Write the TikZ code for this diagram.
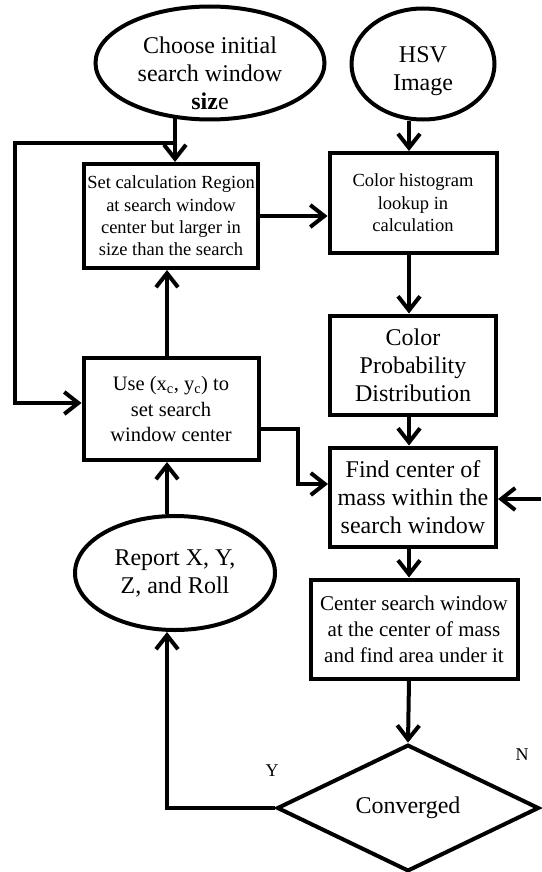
\documentclass[tikz,border=0pt]{standalone}
\usepackage{fontspec}
\setmainfont{Liberation Serif}
\usetikzlibrary{arrows.meta,shapes.geometric}

\tikzset{
  every node/.style={align=center, line width=4pt, inner sep=0pt},
  blk/.style={draw, rectangle},
  oval/.style={draw, ellipse},
  arr/.style={-{Straight Barb[length=14pt,width=22pt]}, line width=4pt},
  bigtxt/.style={font=\fontsize{24}{28}\selectfont},
  midtxt/.style={font=\fontsize{20.5}{25.5}\selectfont},
  smalltxt/.style={font=\fontsize{18.5}{22.4}\selectfont},
}

\begin{document}
\begin{tikzpicture}[x=1pt, y=-1pt]
\useasboundingbox (0,0) rectangle (541,872);
% inputs (text sits a little low in these two)
\node[oval, minimum width=229, minimum height=113,
  label={[bigtxt, yshift=-10pt]center:{Choose initial\\search window\\\textbf{siz}e}}] (choose) at (210,63) {};
\node[oval, minimum width=143, minimum height=111,
  label={[bigtxt, yshift=-7pt]center:{HSV\\Image}}] (hsv) at (423,64) {};
% left column
\node[blk, smalltxt, minimum width=174, minimum height=104] (setreg) at (171,216) {Set calculation Region\\at search window\\center but larger in\\size than the search};
\node[blk, midtxt, minimum width=175, minimum height=102] (use) at (171,409) {Use (x\textsubscript{c}, y\textsubscript{c}) to\\set search\\window center};
\node[oval, bigtxt, minimum width=200, minimum height=114] (report) at (175,573) {Report X, Y,\\Z, and Roll};
% right column
\node[blk, smalltxt, minimum width=167, minimum height=100] (hist) at (413,203) {Color histogram\\lookup in\\calculation};
\node[blk, bigtxt, minimum width=166, minimum height=99] (prob) at (413,365) {Color\\Probability\\Distribution};
\node[blk, bigtxt, minimum width=166, minimum height=99] (find) at (413,497) {Find center of\\mass within the\\search window};
\node[blk, font=\fontsize{21}{26}\selectfont, minimum width=207, minimum height=99] (centre) at (414,629) {Center search window\\at the center of mass\\and find area under it};
\node[draw, diamond, bigtxt, minimum width=262, minimum height=118] (conv) at (408,808) {Converged};
\node[font=\fontsize{18}{20}\selectfont] (ylab) at (272,771) {Y};
\node[font=\fontsize{18}{20}\selectfont] (nlab) at (522,755) {N};

\coordinate (join) at (175,143);
\coordinate (edge) at (541,499);

% connectors
\draw[arr] ([xshift=-35,yshift=3]choose.south) -- ([xshift=4]setreg.north);
\draw[arr] (join) -| (15,403) -- ([yshift=6]use.west);
\draw[arr] ([xshift=-4]use.north) -- ([xshift=-4]setreg.south);
\draw[arr] ([xshift=-8]report.north) -- ([xshift=-4]use.south);
\draw[arr] (setreg.east) -- (setreg.east -| hist.west);
\draw[arr] ([xshift=-14]hsv.south) -- ([xshift=-4]hist.north);
\draw[arr] ([xshift=-4]hist.south) -- ([xshift=-4]prob.north);
\draw[arr] ([xshift=-4]prob.south) -- ([xshift=-4]find.north);
\draw[arr] ([yshift=-20]use.east) -- ++(37,0) |- ([yshift=13]find.west);
\draw[arr] (edge) -- ([yshift=-2]find.east);
\draw[arr] ([xshift=-4]find.south) -- ([xshift=-5]centre.north);
\draw[arr] ([xshift=-5]centre.south) -- (conv.north);
\draw[arr] (conv.west) -| ([xshift=-8]report.south);
\end{tikzpicture}
\end{document}
